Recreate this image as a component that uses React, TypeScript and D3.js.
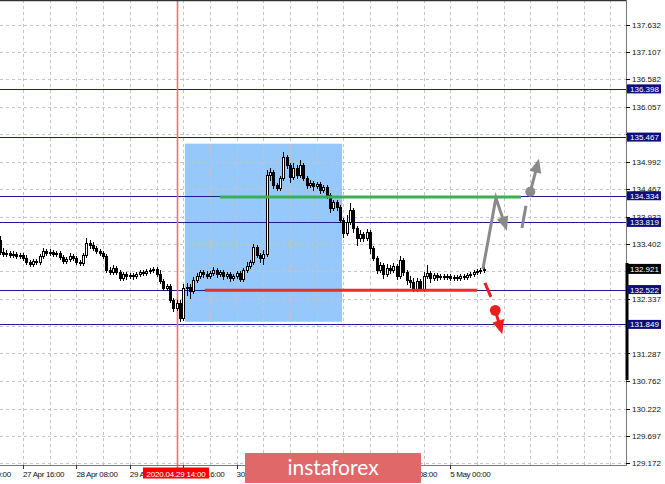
import React from 'react';
import * as d3 from 'd3';

// ---- data ----
const firstBar = -7; // index of first visible hourly bar (0 = 27 Apr 16:00)
const firstOpen = 133.48;
const closes = [
  133.25, 133.21, 133.23, 133.19, 133.21, 133.17, 133.19,
  133.13, 133.05, 133.02, 133.07, 133.05, 133.17, 133.27, 133.23, 133.25, 133.21,
  133.23, 133.15, 133.07, 133.11, 133.17, 133.13, 133.05, 133.04, 133.19, 133.42,
  133.38, 133.33, 133.27, 133.23, 133.17, 132.90, 132.86, 132.94, 132.86, 132.75,
  132.82, 132.78, 132.80, 132.78, 132.82, 132.86, 132.84, 132.88, 132.90, 132.92,
  132.82, 132.69, 132.55, 132.59, 132.32, 132.17, 132.26, 131.97, 132.55, 132.57,
  132.49, 132.71, 132.78, 132.86, 132.82, 132.78, 132.84, 132.90, 132.82, 132.86,
  132.78, 132.82, 132.75, 132.78, 132.84, 132.73, 132.90, 132.98, 133.05, 133.34,
  133.19, 133.13, 133.21, 134.74, 134.79, 134.54, 134.48, 134.68, 135.08, 134.93,
  134.70, 134.87, 134.74, 134.93, 134.68, 134.54, 134.58, 134.52, 134.56, 134.45,
  134.50, 134.35, 134.10, 134.21, 134.12, 133.87, 133.61, 133.83, 134.06, 133.71,
  133.52, 133.60, 133.52, 133.63, 133.33, 133.13, 132.90, 133.00, 132.82, 132.94,
  132.90, 132.98, 132.78, 133.09, 132.86, 132.71, 132.67, 132.53, 132.69, 132.53,
  132.78, 132.84, 132.75, 132.80, 132.76, 132.78, 132.76, 132.78, 132.75, 132.76,
  132.75, 132.78, 132.76, 132.80, 132.82, 132.86, 132.88, 132.90, 132.92,
];
const highs = [
  133.56, 133.33, 133.29, 133.27, 133.27, 133.25, 133.23,
  133.23, 133.19, 133.09, 133.11, 133.11, 133.21, 133.33, 133.31, 133.31, 133.29,
  133.27, 133.27, 133.19, 133.15, 133.23, 133.21, 133.17, 133.09, 133.23, 133.52,
  133.48, 133.44, 133.36, 133.31, 133.27, 133.21, 132.96, 133.00, 132.98, 132.90,
  132.86, 132.86, 132.84, 132.84, 132.86, 132.90, 132.90, 132.92, 132.94, 132.96,
  132.96, 132.90, 132.73, 132.63, 132.63, 132.36, 132.32, 132.32, 132.63, 132.65,
  132.63, 132.76, 132.84, 132.90, 132.90, 132.88, 132.88, 132.96, 132.94, 132.90,
  132.90, 132.86, 132.86, 132.82, 132.88, 132.88, 132.94, 133.05, 133.09, 133.40,
  133.38, 133.23, 133.29, 134.83, 134.87, 134.83, 134.58, 134.72, 135.18, 135.12,
  134.97, 134.97, 134.93, 135.02, 134.97, 134.72, 134.64, 134.62, 134.60, 134.60,
  134.54, 134.54, 134.39, 134.25, 134.25, 134.16, 133.90, 133.96, 134.19, 134.10,
  133.75, 133.67, 133.63, 133.69, 133.67, 133.36, 133.17, 133.05, 133.04, 133.02,
  133.00, 133.04, 133.02, 133.17, 133.13, 132.90, 132.78, 132.75, 132.75, 132.73,
  132.86, 133.00, 132.88, 132.84, 132.84, 132.82, 132.82, 132.82, 132.82, 132.80,
  132.80, 132.82, 132.82, 132.84, 132.86, 132.90, 132.92, 132.94, 132.96,
];
const lows = [
  133.21, 133.17, 133.17, 133.15, 133.15, 133.13, 133.13,
  133.09, 133.02, 132.98, 132.98, 133.02, 133.02, 133.13, 133.19, 133.19, 133.17,
  133.17, 133.11, 133.04, 133.04, 133.07, 133.09, 133.02, 133.00, 133.00, 133.15,
  133.33, 133.29, 133.23, 133.19, 133.13, 132.86, 132.82, 132.82, 132.82, 132.71,
  132.71, 132.73, 132.75, 132.73, 132.75, 132.78, 132.80, 132.80, 132.84, 132.86,
  132.78, 132.65, 132.51, 132.51, 132.28, 132.11, 132.13, 131.91, 131.93, 132.42,
  132.36, 132.45, 132.67, 132.75, 132.76, 132.75, 132.75, 132.80, 132.76, 132.78,
  132.73, 132.75, 132.69, 132.71, 132.75, 132.69, 132.69, 132.86, 132.94, 133.02,
  133.15, 133.05, 133.02, 133.17, 134.64, 134.48, 134.45, 134.45, 134.64, 134.87,
  134.60, 134.66, 134.68, 134.70, 134.64, 134.48, 134.50, 134.45, 134.48, 134.39,
  134.41, 134.29, 134.02, 134.06, 134.06, 133.83, 133.54, 133.58, 133.79, 133.63,
  133.38, 133.46, 133.46, 133.48, 133.23, 133.09, 132.84, 132.86, 132.75, 132.78,
  132.84, 132.86, 132.73, 132.75, 132.80, 132.63, 132.57, 132.49, 132.49, 132.51,
  132.49, 132.75, 132.67, 132.71, 132.71, 132.73, 132.73, 132.73, 132.71, 132.71,
  132.71, 132.71, 132.73, 132.73, 132.76, 132.78, 132.82, 132.84, 132.86,
];

const yTicks = [137.632, 137.107, 136.582, 136.057, 135.532, 134.992, 134.467, 133.932, 133.402,
  132.877, 132.337, 131.812, 131.287, 130.762, 130.222, 129.697, 129.172];
const yTickLabelsHidden = [135.532, 132.877, 131.812];
const levels = [136.398, 135.467, 134.334, 133.819, 132.522, 131.849];
const currentPrice = 132.921;

const timeLabelBars = [-16, 0, 16, 32, 48, 64, 112, 128];
const timeLabels = ['27 Apr 00:00', '27 Apr 16:00', '28 Apr 08:00', '29 Apr 00:00', '29 Apr 16:00',
  '30 Apr 08:00', '4 May 08:00', '5 May 00:00'];
const tickBars = [-16, 0, 16, 32, 48, 64, 80, 96, 112, 128];
const gridBars = d3.range(-8, 184, 8);

const markerBar = 46;
const markerLabel = '2020.04.29 14:00';

const zoneBars = [48.5, 95.6];
const zonePrices = [131.90, 135.34];

const greenLevel = 134.31;
const greenBars = [59, 149.2];
const redLevel = 132.51;
const redBars = [54.5, 136];

const grayZigzag: [number, number][] = [[137.8, 132.92], [141.7, 134.29], [145.0, 133.66]];
const grayDash: [number, number][] = [[149.5, 133.71], [150.7, 134.14]];
const grayUp: [number, number][] = [[152.0, 134.41], [154.6, 135.05]];
const redDash: [number, number][] = [[138.4, 132.65], [140.2, 132.38]];
const redDown: [number, number][] = [[141.5, 132.12], [143.6, 131.66]];

// ---- layout ----
const W = 665;
const H = 484;
const plotRight = 626;
const axisY = 465;

const x = d3.scaleLinear().domain([0, 128]).range([23, 450.2]);
const y = d3.scaleLinear().domain([129.172, 137.632]).range([463, 25]);

const FONT = 'Liberation Sans, Arial, sans-serif';
const NAVY = '#1c1c8e';
const NAVY_BOX = '#0d0d80';

function arrowHead(p0: [number, number], p1: [number, number], len = 14, half = 6) {
  const dx = p1[0] - p0[0];
  const dy = p1[1] - p0[1];
  const d = Math.hypot(dx, dy);
  const ux = dx / d, uy = dy / d;
  const bx = p1[0] - ux * len, by = p1[1] - uy * len;
  return `${p1[0]},${p1[1]} ${bx - uy * half},${by + ux * half} ${bx + uy * half},${by - ux * half}`;
}

function shaft(p0: [number, number], p1: [number, number], back = 9): [number, number] {
  const dx = p1[0] - p0[0];
  const dy = p1[1] - p0[1];
  const d = Math.hypot(dx, dy);
  return [p1[0] - (dx / d) * back, p1[1] - (dy / d) * back];
}

export default function App() {
  const px = (p: [number, number]): [number, number] => [x(p[0]), y(p[1])];
  const line = d3.line<[number, number]>().x(d => d[0]).y(d => d[1]);

  const candles = closes.map((c, k) => {
    const o = k === 0 ? firstOpen : closes[k - 1];
    const cx = Math.round(x(firstBar + k));
    const top = Math.round(y(Math.max(o, c)));
    const bot = Math.round(y(Math.min(o, c)));
    const hi = Math.round(y(highs[k]));
    const lo = Math.round(y(lows[k]));
    const bull = c > o;
    return (
      <g key={k}>
        <line x1={cx + 0.5} x2={cx + 0.5} y1={hi} y2={lo + 1} stroke="#000" strokeWidth={1} />
        <rect x={cx - 0.5} y={top + 0.5} width={2} height={Math.max(bot - top, 0)}
          fill={bull ? '#fff' : '#000'} stroke="#000" strokeWidth={1} />
      </g>
    );
  });

  const gz = grayZigzag.map(px);
  const gzShaft = [...gz.slice(0, -1), shaft(gz[gz.length - 2], gz[gz.length - 1])];
  const gu = grayUp.map(px);
  const rd = redDown.map(px);

  return (
    <svg width={W} height={H} style={{ position: 'absolute', left: 0, top: 0, background: '#fff' }}
      fontFamily={FONT}>
      <defs>
        <clipPath id="xlabClip">
          <rect x={0} y={466} width={143} height={18} />
          <rect x={209} y={466} width={36} height={18} />
          <rect x={421} y={466} width={244} height={18} />
        </clipPath>
      </defs>
      <rect x={0} y={0} width={W} height={H} fill="#fff" />

      {/* highlighted zone */}
      <rect x={x(zoneBars[0])} y={y(zonePrices[1])} width={x(zoneBars[1]) - x(zoneBars[0])}
        height={y(zonePrices[0]) - y(zonePrices[1])} fill="#96c8fc" />

      {/* grid */}
      <g stroke="#c4c4c4" strokeWidth={1} strokeDasharray="3,3">
        {yTicks.map(v => (
          <line key={v} x1={0} x2={plotRight} y1={Math.round(y(v)) + 0.5} y2={Math.round(y(v)) + 0.5} />
        ))}
        {gridBars.filter(b => x(b) < plotRight).map(b => (
          <line key={b} x1={Math.round(x(b)) + 0.5} x2={Math.round(x(b)) + 0.5} y1={0} y2={axisY} />
        ))}
      </g>

      {/* horizontal levels */}
      {levels.map(v => (
        <line key={v} x1={0} x2={plotRight} y1={Math.round(y(v)) + 0.5} y2={Math.round(y(v)) + 0.5}
          stroke={NAVY} strokeWidth={1} />
      ))}

      {/* vertical marker */}
      <line x1={Math.round(x(markerBar)) + 0.5} x2={Math.round(x(markerBar)) + 0.5} y1={0} y2={471}
        stroke="#ff6a6a" strokeWidth={1.6} />

      {/* candles */}
      {candles}

      {/* green and red lines */}
      <line x1={x(greenBars[0])} x2={x(greenBars[1])} y1={y(greenLevel)} y2={y(greenLevel)}
        stroke="#3aaf55" strokeWidth={3} />
      <line x1={x(redBars[0])} x2={x(redBars[1])} y1={y(redLevel)} y2={y(redLevel)}
        stroke="#ee2a2a" strokeWidth={3} />

      {/* gray scenario */}
      <path d={line(gzShaft) || ''} fill="none" stroke="#8a8a8a" strokeWidth={3} strokeLinejoin="miter" />
      <polygon points={arrowHead(gz[1], gz[2])} fill="#8a8a8a" />
      <path d={line(grayDash.map(px)) || ''} stroke="#8a8a8a" strokeWidth={3} fill="none" />
      <path d={line([gu[0], shaft(gu[0], gu[1])]) || ''} stroke="#8a8a8a" strokeWidth={3} fill="none" />
      <polygon points={arrowHead(gu[0], gu[1])} fill="#8a8a8a" />
      <circle cx={gu[0][0]} cy={gu[0][1]} r={5} fill="#8a8a8a" />

      {/* red scenario */}
      <path d={line(redDash.map(px)) || ''} stroke="#ee1c1c" strokeWidth={3} fill="none" />
      <path d={line([rd[0], shaft(rd[0], rd[1])]) || ''} stroke="#ee1c1c" strokeWidth={3} fill="none" />
      <polygon points={arrowHead(rd[0], rd[1])} fill="#ee1c1c" />
      <circle cx={rd[0][0]} cy={rd[0][1]} r={5.4} fill="#ee1c1c" />

      {/* frame */}
      <line x1={0} x2={plotRight + 1} y1={0.5} y2={0.5} stroke="#333" strokeWidth={1.5} />
      <line x1={plotRight + 0.5} x2={plotRight + 0.5} y1={0} y2={axisY + 1} stroke="#777" strokeWidth={1} />
      <line x1={0} x2={plotRight + 1} y1={axisY + 0.5} y2={axisY + 0.5} stroke="#777" strokeWidth={1} />
      <rect x={625.5} y={263} width={3} height={117} fill="#000" />

      {/* y axis */}
      {yTicks.map(v => (
        <g key={v}>
          <line x1={plotRight} x2={plotRight + 4} y1={Math.round(y(v)) + 0.5} y2={Math.round(y(v)) + 0.5}
            stroke="#000" />
          {!yTickLabelsHidden.includes(v) && (
            <text x={632} y={y(v) + 3} fontSize={8} fill="#111">{v.toFixed(3)}</text>
          )}
        </g>
      ))}
      {levels.map(v => (
        <g key={v}>
          <rect x={627} y={y(v) - 4.5} width={34} height={9} fill={NAVY_BOX} />
          <text x={630} y={y(v) + 3} fontSize={8} fill="#fff">{v.toFixed(3)}</text>
        </g>
      ))}
      <rect x={627} y={y(currentPrice) - 5} width={34} height={10} fill="#000" />
      <text x={630} y={y(currentPrice) + 3} fontSize={8} fill="#fff">{currentPrice.toFixed(3)}</text>

      {/* x axis */}
      {tickBars.map(b => (
        <line key={b} x1={Math.round(x(b)) + 0.5} x2={Math.round(x(b)) + 0.5} y1={axisY} y2={axisY + 4} stroke="#333" />
      ))}
      <g clipPath="url(#xlabClip)">
        {timeLabelBars.map((b, k) => (
          <text key={b} x={x(b)} y={477} fontSize={8} letterSpacing={-0.35} fill="#111">{timeLabels[k]}</text>
        ))}
      </g>
      <rect x={143} y={467.5} width={66} height={11} fill="#ff0000" />
      <text x={176} y={476.5} fontSize={8} letterSpacing={-0.2} fill="#fff" textAnchor="middle">{markerLabel}</text>

      {/* logo */}
      <rect x={245} y={453} width={176} height={30} fill="#e06868" />
      <text x={333} y={475} fontSize={21} fill="#fff" textAnchor="middle" fontFamily="Lato, 'Open Sans', sans-serif">
        instaforex
      </text>
    </svg>
  );
}
